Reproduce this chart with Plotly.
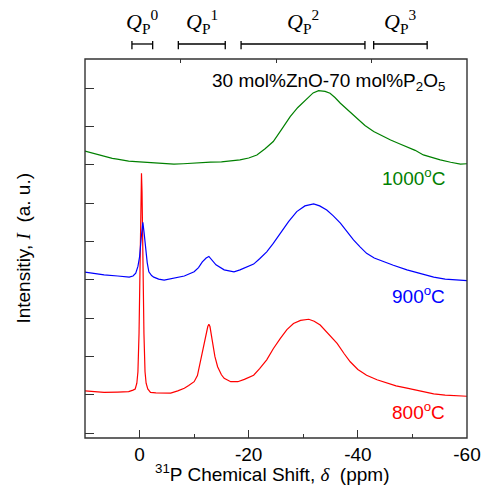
import plotly.graph_objects as go

# ---- data ----
ppm_800 = [10, 8, 6.5, 4, 2, 1.2, 0.8, 0.5, 0.3, 0.1, -0.1, -0.25, -0.35, -0.45, -0.6, -0.8, -1.0, -1.2,
           -1.5, -2.0, -3, -4, -5.7, -7, -8.2, -9, -10, -10.6, -11.2, -11.7, -12.1, -12.5, -12.7, -12.9,
           -13.3, -13.8, -14.3, -15, -15.5, -16.7, -18, -19.2, -20.9, -22, -23.3, -24.5, -25.8, -27,
           -28.2, -29.5, -31, -32, -33.1, -34.5, -36.2, -37.5, -38.6, -40, -41.6, -43.5, -45.3, -47,
           -49, -51.5, -53.9, -56, -58.8, -60]
int_800 = [1.10, 1.08, 1.06, 1.07, 1.08, 1.12, 1.15, 1.30, 1.60, 2.60, 4.50, 6.30, 6.78, 6.30, 4.50, 2.60,
           1.60, 1.30, 1.15, 1.06, 1.05, 1.04, 1.04, 1.10, 1.17, 1.24, 1.34, 1.50, 1.91, 2.20, 2.51, 2.78,
           2.84, 2.78, 2.43, 2.00, 1.73, 1.52, 1.43, 1.34, 1.34, 1.40, 1.51, 1.68, 1.91, 2.20, 2.47, 2.70,
           2.86, 2.94, 2.97, 2.92, 2.82, 2.60, 2.34, 2.07, 1.86, 1.66, 1.51, 1.39, 1.30, 1.23, 1.17, 1.09,
           1.02, 0.99, 0.97, 0.96]

ppm_900 = [10, 8, 6.5, 4, 1.9, 1.2, 0.7, 0.3, 0.0, -0.3, -0.6, -0.85, -1.1, -1.4, -1.7, -2.2, -2.6, -3.5,
           -4.5, -6, -8.2, -10, -10.8, -11.5, -12.2, -12.7, -13.3, -14, -15.5, -17.3, -18.4, -19.5, -20.9,
           -22, -23.3, -24.5, -25.8, -27.3, -28.8, -30.3, -31.9, -33, -34.3, -35.5, -36.8, -38, -39.2,
           -40.4, -41.6, -43, -44.7, -46.5, -49, -51.5, -53.9, -56, -58.8, -60]
int_900 = [4.20, 4.16, 4.13, 4.10, 4.07, 4.10, 4.17, 4.35, 4.60, 5.10, 5.50, 5.20, 4.78, 4.45, 4.21, 4.11,
           4.07, 4.02, 3.99, 4.03, 4.10, 4.21, 4.32, 4.47, 4.57, 4.61, 4.52, 4.39, 4.26, 4.21, 4.26, 4.32,
           4.41, 4.55, 4.73, 4.95, 5.21, 5.52, 5.78, 5.93, 5.98, 5.93, 5.82, 5.67, 5.48, 5.26, 5.04, 4.86,
           4.69, 4.57, 4.47, 4.38, 4.26, 4.16, 4.07, 4.02, 3.98, 3.98]

ppm_1000 = [10, 9, 7, 5, 4.1, 2, 0, -2, -4, -6.3, -8, -10, -11.2, -13, -15, -17, -18.4, -20, -21.5, -23,
            -24.5, -26, -27.6, -29, -30.7, -31.8, -32.8, -34, -34.9, -35.8, -36.8, -38.3, -39.8, -41.3,
            -42.9, -44.5, -46, -47.5, -49, -50.5, -52, -53.5, -55.1, -57, -58.8, -60]
int_1000 = [7.36, 7.32, 7.24, 7.17, 7.15, 7.10, 7.08, 7.06, 7.04, 7.02, 7.03, 7.05, 7.06, 7.07, 7.08, 7.10,
            7.13, 7.18, 7.26, 7.42, 7.61, 7.92, 8.26, 8.50, 8.74, 8.88, 8.94, 8.92, 8.87, 8.76, 8.61, 8.42,
            8.22, 8.03, 7.87, 7.75, 7.65, 7.56, 7.48, 7.38, 7.26, 7.19, 7.13, 7.07, 7.02, 7.03]

series_names = ["800<sup>o</sup>C", "900<sup>o</sup>C", "1000<sup>o</sup>C"]
series_colors = ["#ff0000", "#0000ff", "#008000"]

q_labels = ["0", "1", "2", "3"]
q_start = [1.4, -7.1, -18.6, -42.9]
q_end = [-2.4, -15.7, -41.3, -52.7]

x_ticks = [0, -20, -40, -60]
y_ticks = list(range(0, 10))

SANS = "Liberation Sans, Arial, sans-serif"
SERIF = "Liberation Serif, Times New Roman, serif"
AX = "#333333"

fig = go.Figure()
for xs, ys, c, n in [(ppm_800, int_800, series_colors[0], series_names[0]),
                     (ppm_900, int_900, series_colors[1], series_names[1]),
                     (ppm_1000, int_1000, series_colors[2], series_names[2])]:
    fig.add_trace(go.Scatter(x=xs, y=ys, mode="lines", line=dict(color=c, width=1.2),
                             name=n, showlegend=False, hoverinfo="skip"))

# invisible trace to activate the top axis
fig.add_trace(go.Scatter(x=[0, 4], y=[0, 0], xaxis="x2", mode="lines",
                         line=dict(width=0), showlegend=False, hoverinfo="skip"))

fig.update_layout(
    width=484, height=501,
    margin=dict(l=85, r=17, t=59, b=63, autoexpand=False),
    paper_bgcolor="white", plot_bgcolor="white",
    font=dict(family=SANS, size=19, color="black"),
    xaxis=dict(range=[10, -60], tickmode="array", tickvals=x_ticks,
               ticktext=[str(v) for v in x_ticks], automargin=False,
               ticks="inside", ticklen=8, tickwidth=1.3, tickcolor=AX,
               ticklabelstandoff=3,
               minor=dict(ticks="inside", ticklen=4, tickwidth=1.3, tickcolor=AX,
                          tickmode="array", tickvals=[-10, -30, -50]),
               showgrid=False, zeroline=False, showline=False,
               tickfont=dict(family=SANS, size=19, color="black")),
    xaxis2=dict(range=[0, 4], overlaying="x", side="top", tickmode="array", automargin=False,
                tickvals=[1, 2, 3], showticklabels=False, ticks="inside", ticklen=4,
                tickwidth=1.3, tickcolor=AX, showgrid=False, zeroline=False, showline=False),
    yaxis=dict(range=[-0.13, 9.765], tickmode="array", tickvals=y_ticks, automargin=False,
               showticklabels=False, ticks="inside", ticklen=9, tickwidth=1.3, tickcolor=AX,
               showgrid=False, zeroline=False, showline=False),
)

# frame
fig.add_shape(type="rect", xref="paper", yref="paper", x0=0, y0=0, x1=1, y1=1,
              line=dict(color=AX, width=1.4), layer="above")

# Q_P^n brackets and labels
yb, yb0, yb1 = 1.0396, 1.0256, 1.0475
for lab, a, b in zip(q_labels, q_start, q_end):
    fig.add_shape(type="line", xref="x", yref="paper", x0=a, x1=b, y0=yb, y1=yb,
                  line=dict(color="black", width=1.3))
    for e in (a, b):
        fig.add_shape(type="line", xref="x", yref="paper", x0=e, x1=e, y0=yb0, y1=yb1,
                      line=dict(color="black", width=1.3))
    fig.add_annotation(x=(a + b) / 2, xref="x", y=1.052, yref="paper", yanchor="bottom",
                       xanchor="center", showarrow=False,
                       text="<i>Q</i><sub>P</sub><sup>%s</sup>" % lab,
                       font=dict(family=SERIF, size=22, color="black"))

# composition text
fig.add_annotation(x=0.948, xref="paper", y=0.94, yref="paper", showarrow=False,
                   text="30 mol%ZnO-70 mol%P<sub>2</sub>O<sub>5</sub>",
                   xanchor="right", yanchor="middle",
                   font=dict(family=SANS, size=19, color="black"))

# temperature labels
label_y = [0.07, 0.378, 0.688]
for n, c, yy in zip(series_names, series_colors, label_y):
    fig.add_annotation(x=1, xref="paper", xshift=-20, y=yy, yref="paper", showarrow=False,
                       text=n, xanchor="right", yanchor="middle",
                       font=dict(family=SANS, size=19, color=c))

# axis titles
fig.add_annotation(x=0.49, xref="paper", y=-0.092, yref="paper", yanchor="middle", xanchor="center",
                   showarrow=False,
                   text="<sup>31</sup>P Chemical Shift, <span style=\"font-family:Liberation Serif\"><i>δ</i></span>  (ppm)",
                   font=dict(family=SANS, size=19, color="black"))
fig.add_annotation(x=-0.162, xref="paper", y=0.5, yref="paper", textangle=-90, showarrow=False,
                   xanchor="center", yanchor="middle",
                   text="Intensitiy, <span style=\"font-family:Liberation Serif\"><i>I</i></span>  (a. u.)",
                   font=dict(family=SANS, size=19, color="black"))

fig.write_html("out.html")
